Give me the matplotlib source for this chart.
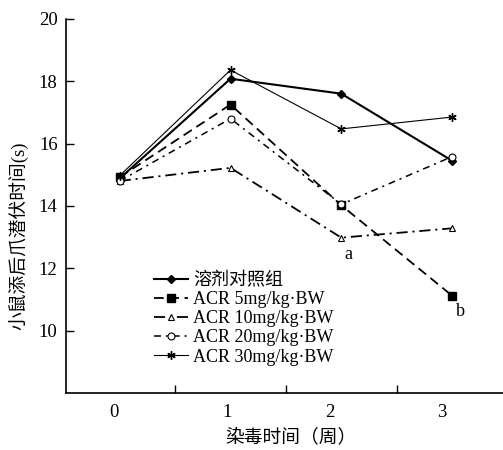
import matplotlib
matplotlib.use("Agg")
import matplotlib.pyplot as plt

plt.rcParams['font.family'] = ['Liberation Serif', 'Noto Sans CJK SC']
plt.rcParams['lines.scale_dashes'] = False

weeks = [0, 1, 2, 3]
week_labels = ["0", "1", "2", "3"]
control = [14.88, 18.08, 17.6, 15.45]
acr5 = [14.92, 17.25, 14.02, 11.12]
acr10 = [14.8, 15.22, 12.98, 13.28]
acr20 = [14.8, 16.8, 14.05, 15.58]
acr30 = [14.97, 18.36, 16.47, 16.85]
names = ["溶剂对照组", "ACR 5mg/kg·BW", "ACR 10mg/kg·BW",
         "ACR 20mg/kg·BW", "ACR 30mg/kg·BW"]

fig = plt.figure(figsize=(5.03, 4.5), dpi=100)
ax = fig.add_axes([0.131, 0.127, 0.869, 0.831])

ax.plot(weeks, control, color="black", lw=1.5, marker="D", ms=4,
        label=names[0])
ax.plot(weeks, acr5, color="black", lw=1.3, dashes=(7, 4), marker="s",
        ms=5.5, label=names[1])
ax.plot(weeks, acr10, color="black", lw=1.3, dashes=(8, 3.5, 1.5, 3.5),
        marker="^", ms=5, mfc="white", mew=0.8, label=names[2])
ax.plot(weeks, acr20, color="black", lw=1.1, dashes=(5, 3.5, 1.5, 3.5),
        marker="o", ms=5, mfc="white", mew=0.8, label=names[3])
ax.plot(weeks, acr30, color="black", lw=0.8, marker=(6, 2, 0), ms=6,
        mew=1.0, label=names[4])

ax.text(2.06, 12.45, "a", fontsize=13, ha="center", va="center")
ax.text(3.08, 10.6, "b", fontsize=13, ha="center", va="center")

ax.set_xlim(-0.486, 3.46)
ax.set_ylim(8, 20)
ax.set_yticks([10, 12, 14, 16, 18, 20])
ax.set_xticks([0.5, 1.5, 2.5], ["", "", ""])
ax.set_xticks([-0.05, 0.97, 1.9, 2.91], week_labels, minor=True)
ax.tick_params(axis="both", which="major", direction="in", length=6,
               width=1, labelsize=13.5)
ax.tick_params(axis="x", which="minor", length=0, labelsize=13.5, pad=8)
ax.tick_params(axis="y", pad=6)
for s in ["top", "right"]:
    ax.spines[s].set_visible(False)
ax.spines["left"].set_linewidth(1.2)
ax.spines["bottom"].set_linewidth(1.2)

ax.set_xlabel("染毒时间（周）", fontsize=13.5)
ax.xaxis.set_label_coords(0.515, -0.095)
ax.set_ylabel("小鼠添后爪潜伏时间(s)", fontsize=13.5)
ax.yaxis.set_label_coords(-0.084, 0.42)

ax.legend(loc="upper left", bbox_to_anchor=(0.18, 0.348), frameon=False,
          fontsize=13, handlelength=1.9, handletextpad=0.3,
          labelspacing=0.12, borderpad=0)

fig.savefig("out.png", dpi=100)
